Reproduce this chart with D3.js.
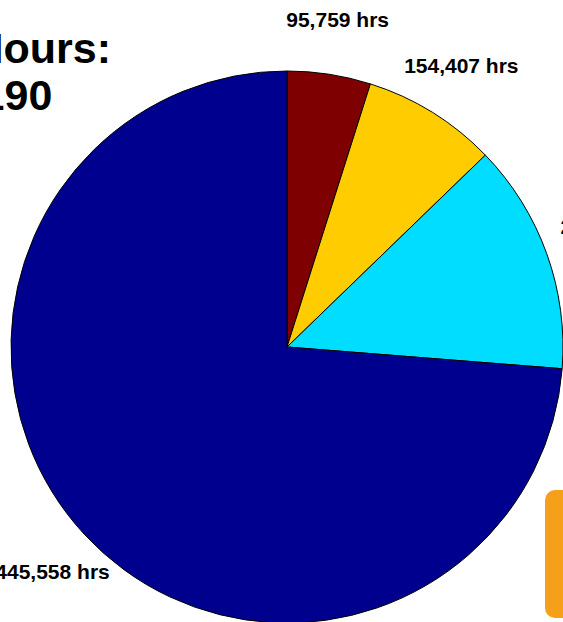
<!DOCTYPE html>
<html>
<head>
<meta charset="utf-8">
<script src="https://cdn.jsdelivr.net/npm/d3@7"></script>
<style>
  body { margin: 0; background: #fff; overflow: hidden; }
  text { font-family: "Liberation Sans", Arial, sans-serif; font-weight: bold; fill: #000; }
</style>
</head>
<body>
<script>
var width = 563;
var height = 622;

// slices, clockwise from 12 o'clock
var names = ["A", "B", "C", "D"];
var hours = [95759, 154407, 264466, 1445558];
var labels = ["95,759 hrs", "154,407 hrs", "264,466 hrs", "1,445,558 hrs"];
var colors = ["#7f0000", "#ffcc00", "#00ddff", "#00008f"];
var titleLines = ["Total Hours:", "1,960,190"];

var svg = d3.select("body").append("svg")
  .attr("width", width)
  .attr("height", height);

var cx = 287, cy = 347, r = 276;

var pie = d3.pie().sort(null).value(function (d) { return d; });
var arcs = pie(hours);

var arc = d3.arc().innerRadius(0).outerRadius(r);
var labelArc = d3.arc().innerRadius(r * 1.2).outerRadius(r * 1.2);

var g = svg.append("g")
  .attr("transform", "translate(" + cx + "," + cy + ")");

g.selectAll("path")
  .data(arcs)
  .enter()
  .append("path")
  .attr("d", arc)
  .attr("fill", function (d, i) { return colors[i]; })
  .attr("stroke", "#000")
  .attr("stroke-width", 1);

g.selectAll("text.lbl")
  .data(arcs)
  .enter()
  .append("text")
  .attr("class", "lbl")
  .attr("x", function (d, i) {
    var x = labelArc.centroid(d)[0];
    // the right-hand label was nudged over in the original
    if (i == 2) x += 19;
    return x;
  })
  .attr("y", function (d, i) {
    var y = labelArc.centroid(d)[1];
    if (i == 2) y -= 8;
    return y;
  })
  .attr("dy", "0.35em")
  .attr("text-anchor", "middle")
  .style("font-size", "21px")
  .text(function (d, i) { return labels[i]; });

// title, mostly off the left edge
svg.selectAll("text.title")
  .data(titleLines)
  .enter()
  .append("text")
  .attr("class", "title")
  .attr("x", -139)
  .attr("y", function (d, i) { return 63 + i * 47; })
  .style("font-size", "43px")
  .text(function (d) { return d; });

// orange callout box peeking in at the bottom right
svg.append("rect")
  .attr("x", 545)
  .attr("y", 490)
  .attr("width", 60)
  .attr("height", 128)
  .attr("rx", 10)
  .attr("fill", "#f6a01a");
</script>
</body>
</html>
